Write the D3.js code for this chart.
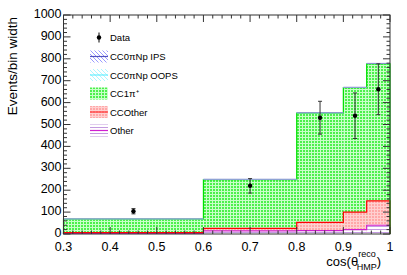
<!DOCTYPE html>
<html><head><meta charset="utf-8">
<script src="https://cdn.jsdelivr.net/npm/d3@7"></script>
<style>body{margin:0;background:#fff}svg{display:block;font-family:"Liberation Sans",Arial,sans-serif}</style>
</head><body><svg id="c" width="407" height="275"></svg>
<script>
const binEdges = [0.3, 0.6, 0.8, 0.9, 0.95, 1.0];
const other = [3, 14, 15, 20, 40];
const ccOther = [3, 12, 38, 80, 111];
const cc1pi = [62, 222, 499, 568, 626];
const oops = [0.5, 1, 1, 1, 1];
const ips = [0.5, 1, 1, 1, 1];
const dataX = [0.45, 0.7, 0.85, 0.925, 0.975];
const dataY = [104, 220, 531, 540, 661];
const dataErr = [12, 33, 75, 104, 116];
const xTicks = [0.3, 0.4, 0.5, 0.6, 0.7, 0.8, 0.9, 1];
const yTicks = [0, 100, 200, 300, 400, 500, 600, 700, 800, 900, 1000];
const legendLabels = ["Data", "CC0\u03c0Np IPS", "CC0\u03c0Np OOPS", "CC1\u03c0\u207a", "CCOther", "Other"];

const svg = d3.select("#c");
const L = 63.5, R = 390, T = 15, B = 234;
const x = d3.scaleLinear().domain([0.3, 1]).range([L, R]);
const y = d3.scaleLinear().domain([0, 1000]).range([B, T]);

const defs = svg.append("defs");
function pat(id, w, h, draw) {
  const p = defs.append("pattern").attr("id", id).attr("patternUnits", "userSpaceOnUse").attr("width", w).attr("height", h);
  draw(p);
}
pat("pGreen", 3, 3, p => {
  p.append("rect").attr("width", 3).attr("height", 3).attr("fill", "#c8ffc8");
  p.append("rect").attr("width", 2).attr("height", 2).attr("fill", "#4cf04c");
});
pat("pPink", 3, 3, p => {
  p.append("rect").attr("width", 3).attr("height", 3).attr("fill", "#ffd0d0");
  p.append("rect").attr("width", 2).attr("height", 2).attr("fill", "#ffa8a8");
});
pat("pPurple", 4, 3, p => {
  p.append("rect").attr("width", 4).attr("height", 3).attr("fill", "#fff");
  p.append("rect").attr("y", 1).attr("width", 4).attr("height", 1).attr("fill", "#c49be0");
});
pat("pBlue", 4, 4, p => {
  p.append("rect").attr("width", 4).attr("height", 4).attr("fill", "#fff");
  p.append("path").attr("d", "M0,0L4,4M-1,3L1,5M3,-1L5,1").attr("stroke", "#9a9aff").attr("stroke-width", 1);
});
pat("pCyan", 4, 4, p => {
  p.append("rect").attr("width", 4).attr("height", 4).attr("fill", "#fff");
  p.append("path").attr("d", "M0,0L4,4M-1,3L1,5M3,-1L5,1").attr("stroke", "#aef6ff").attr("stroke-width", 1);
});

const comps = [
  {vals: other, fill: "url(#pPurple)", line: "#d020d0", vert: true},
  {vals: ccOther, fill: "url(#pPink)", line: "#ff0000", vert: true},
  {vals: cc1pi, fill: "url(#pGreen)", line: "#00e000", vert: true},
  {vals: oops, fill: "url(#pCyan)", line: "#9eeeff", vert: false},
  {vals: ips, fill: "url(#pBlue)", line: "#8a8ac8", vert: false}
];
const n = binEdges.length - 1;
let base = new Array(n).fill(0);
const stacks = comps.map(c => {
  const lo = base.slice();
  const hi = lo.map((b, i) => b + c.vals[i]);
  base = hi;
  return {c, lo, hi};
});
stacks.slice().reverse().forEach(s => {
  for (let i = 0; i < n; i++) {
    svg.append("rect").attr("x", x(binEdges[i])).attr("width", x(binEdges[i + 1]) - x(binEdges[i]))
      .attr("y", y(s.hi[i])).attr("height", y(0) - y(s.hi[i])).attr("fill", s.c.fill);
  }
});
stacks.forEach(s => {
  if (s.c.vert) {
    let d = "M" + x(binEdges[0]) + "," + y(0);
    for (let i = 0; i < n; i++) {
      d += "L" + x(binEdges[i]) + "," + y(s.hi[i]) + "L" + x(binEdges[i + 1]) + "," + y(s.hi[i]);
    }
    d += "L" + x(binEdges[n]) + "," + y(0);
    svg.append("path").attr("d", d).attr("fill", "none").attr("stroke", s.c.line).attr("stroke-width", 1.2);
  } else {
    for (let i = 0; i < n; i++) {
      svg.append("line").attr("x1", x(binEdges[i])).attr("x2", x(binEdges[i + 1]))
        .attr("y1", y(s.hi[i])).attr("y2", y(s.hi[i])).attr("stroke", s.c.line).attr("stroke-width", 1);
    }
  }
});

const ax = svg.append("g").attr("stroke", "#333").attr("stroke-width", 1).attr("fill", "none");
ax.append("rect").attr("x", L).attr("y", T).attr("width", R - L).attr("height", B - T);
for (let v = 0; v <= 1000; v += 20) {
  const major = v % 100 === 0;
  const len = major ? 7 : 3.5;
  ax.append("line").attr("x1", L).attr("x2", L + len).attr("y1", y(v)).attr("y2", y(v));
  ax.append("line").attr("x1", R).attr("x2", R - len).attr("y1", y(v)).attr("y2", y(v));
}
for (let k = 0; k <= 35; k++) {
  const v = 0.3 + k * 0.02;
  const major = k % 5 === 0;
  const len = major ? 7 : 3.5;
  ax.append("line").attr("x1", x(v)).attr("x2", x(v)).attr("y1", B).attr("y2", B - len);
  ax.append("line").attr("x1", x(v)).attr("x2", x(v)).attr("y1", T).attr("y2", T + len);
}
svg.append("g").selectAll("text").data(yTicks).join("text")
  .attr("x", L - 2).attr("y", d => y(d) + 3.0).attr("text-anchor", "end")
  .attr("font-size", 12.5).attr("fill", "#000").text(d => d);
svg.append("g").selectAll("text").data(xTicks).join("text")
  .attr("x", d => x(d)).attr("y", 251).attr("text-anchor", "middle")
  .attr("font-size", 12.5).attr("fill", "#000").text(d => d === 1 ? "1" : d3.format(".1f")(d));

svg.append("text").attr("transform", `translate(17,${T + 2}) rotate(-90)`).attr("text-anchor", "end")
  .attr("font-size", 13.5).text("Events/bin width");
const xt = svg.append("text").attr("x", 381).attr("y", 266).attr("text-anchor", "end").attr("font-size", 13);
xt.append("tspan").text("cos(\u03b8");
xt.append("tspan").attr("font-size", 9).attr("dy", -9).text("reco");
xt.append("tspan").attr("font-size", 9).attr("dx", -19).attr("dy", 12.5).text("HMP");
xt.append("tspan").attr("dy", -3.5).text(")");

const dg = svg.append("g");
dataX.forEach((d, i) => {
  dg.append("line").attr("x1", x(d)).attr("x2", x(d)).attr("y1", y(dataY[i] - dataErr[i])).attr("y2", y(dataY[i] + dataErr[i]))
    .attr("stroke", "#333").attr("stroke-width", 1);
  [dataY[i] - dataErr[i], dataY[i] + dataErr[i]].forEach(e =>
    dg.append("line").attr("x1", x(d) - 2).attr("x2", x(d) + 2).attr("y1", y(e)).attr("y2", y(e)).attr("stroke", "#333"));
  dg.append("circle").attr("cx", x(d)).attr("cy", y(dataY[i])).attr("r", 2.2).attr("fill", "#000");
});

const lg = svg.append("g");
const rowsY = [37.5, 56.5, 75, 93.5, 112, 130.5];
const sw = [null,
  {fill: "url(#pBlue)", line: "#5050c0"},
  {fill: "url(#pCyan)", line: "#66eeff"},
  {fill: "url(#pGreen)", line: null},
  {fill: "url(#pPink)", line: "#ff3030"},
  {fill: "url(#pPurple)", line: "#d020d0"}];
legendLabels.forEach((t, i) => {
  const cy = rowsY[i];
  if (i === 0) {
    lg.append("line").attr("x1", 99).attr("x2", 99).attr("y1", cy - 5).attr("y2", cy + 5).attr("stroke", "#000");
    lg.append("circle").attr("cx", 99).attr("cy", cy).attr("r", 2.2).attr("fill", "#000");
  } else {
    lg.append("rect").attr("x", 90).attr("y", cy - 6).attr("width", 18).attr("height", 12).attr("fill", sw[i].fill);
    if (sw[i].line) lg.append("line").attr("x1", 90).attr("x2", 108).attr("y1", cy).attr("y2", cy).attr("stroke", sw[i].line).attr("stroke-width", 1.2);
  }
  lg.append("text").attr("x", 110).attr("y", cy + 3.5).attr("font-size", 9.5).text(t);
});
</script></body></html>
